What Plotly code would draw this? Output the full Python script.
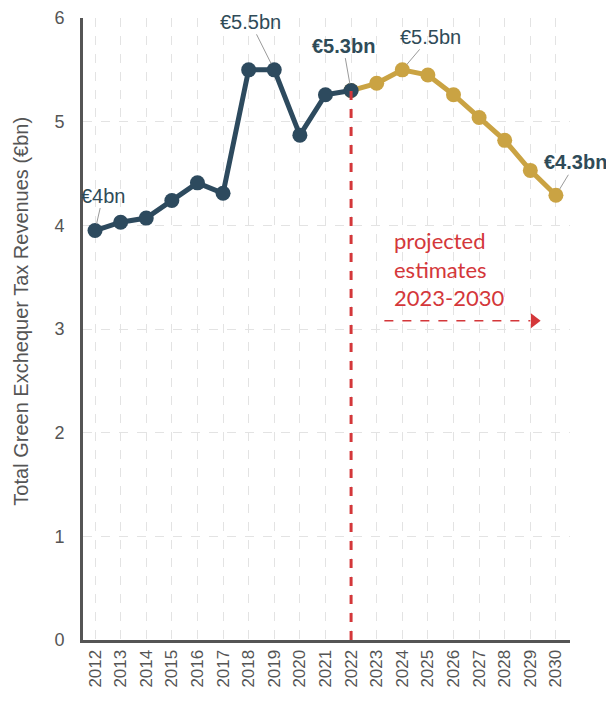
import plotly.graph_objects as go

years_actual = [2012, 2013, 2014, 2015, 2016, 2017, 2018, 2019, 2020, 2021, 2022]
rev_actual = [3.95, 4.03, 4.07, 4.24, 4.41, 4.31, 5.50, 5.50, 4.87, 5.26, 5.30]

years_proj = [2022, 2023, 2024, 2025, 2026, 2027, 2028, 2029, 2030]
rev_proj = [5.30, 5.37, 5.50, 5.45, 5.26, 5.04, 4.82, 4.53, 4.29]

tick_years = list(range(2012, 2031))
y_ticks = [0, 1, 2, 3, 4, 5, 6]

BLUE = "#2d4a5e"
GOLD = "#caa343"
RED = "#d4373a"
GREY = "#555555"

fig = go.Figure()

fig.add_trace(go.Scatter(
    x=years_proj, y=rev_proj, mode="lines+markers",
    line=dict(color=GOLD, width=5), marker=dict(color=GOLD, size=15),
    showlegend=False, hoverinfo="skip"))
fig.add_trace(go.Scatter(
    x=years_actual, y=rev_actual, mode="lines+markers",
    line=dict(color=BLUE, width=5), marker=dict(color=BLUE, size=15),
    showlegend=False, hoverinfo="skip"))

# vertical red dashed line at 2022
fig.add_shape(type="line", xref="x", yref="y", x0=2022, x1=2022, y0=0, y1=rev_actual[-1],
              line=dict(color=RED, width=3, dash="dash"))
# dashed arrow
fig.add_shape(type="line", xref="x", yref="y", x0=2023.3, x1=2029.0, y0=3.08, y1=3.08,
              line=dict(color=RED, width=1.5, dash="dash"))
fig.add_trace(go.Scatter(x=[2029.15], y=[3.08], mode="markers",
                         marker=dict(symbol="triangle-right", color=RED, size=13),
                         showlegend=False, hoverinfo="skip"))

fig.add_annotation(x=2023.6, y=4.0, xref="x", yref="y", xanchor="left", yanchor="top",
                   text="projected<br>estimates<br>2023-2030", showarrow=False, align="left",
                   font=dict(family="Lato", size=22, color=RED))

LAB = "#2f4b58"
lbl = [
    (2012, 3.95, "€4bn", 8, -35, False),
    (2019, 5.50, "€5.5bn", -24, -48, False),
    (2022, 5.30, "€5.3bn", -8, -45, True),
    (2024, 5.50, "€5.5bn", 28, -33, False),
    (2030, 4.29, "€4.3bn", 20, -33, True),
]
for x, y, t, ax, ay, b in lbl:
    fig.add_annotation(x=x, y=y, xref="x", yref="y", text=(f"<b>{t}</b>" if b else t),
                       showarrow=True, arrowhead=0, arrowwidth=1, arrowcolor="#9a9a9a",
                       ax=ax, ay=ay, standoff=7,
                       font=dict(family="Liberation Sans", size=20, color=LAB))

# y-axis title as annotation (placed like the reference, slightly above centre)
fig.add_annotation(xref="paper", yref="paper", x=-0.128, y=0.529, xanchor="center", yanchor="middle",
                   text="Total Green Exchequer Tax Revenues (€bn)", textangle=-90, showarrow=False,
                   font=dict(family="Liberation Sans", size=20, color="#555555"))

fig.update_layout(
    width=606, height=689,
    margin=dict(l=75, r=44, t=10, b=57),
    plot_bgcolor="white", paper_bgcolor="white",
    font=dict(family="Liberation Sans", color=GREY),
)
fig.update_xaxes(
    range=[2011.53, 2030.55], tickmode="array", tickvals=tick_years,
    ticktext=[str(y) for y in tick_years], tickangle=-90, automargin=False,
    tickfont=dict(size=17, color=GREY),
    showgrid=True, gridcolor="#e3e3e3", griddash="dash", gridwidth=1,
    showline=True, linecolor="#555555", linewidth=3, zeroline=False, ticks="")
fig.update_yaxes(
    range=[0, 6], tickvals=y_ticks, tickfont=dict(size=18, color=GREY),
    ticklabelstandoff=12, automargin=False,
    showgrid=True, gridcolor="#e3e3e3", griddash="dash", gridwidth=1,
    showline=True, linecolor="#555555", linewidth=3, zeroline=False, ticks="")

fig.write_html("out.html")
